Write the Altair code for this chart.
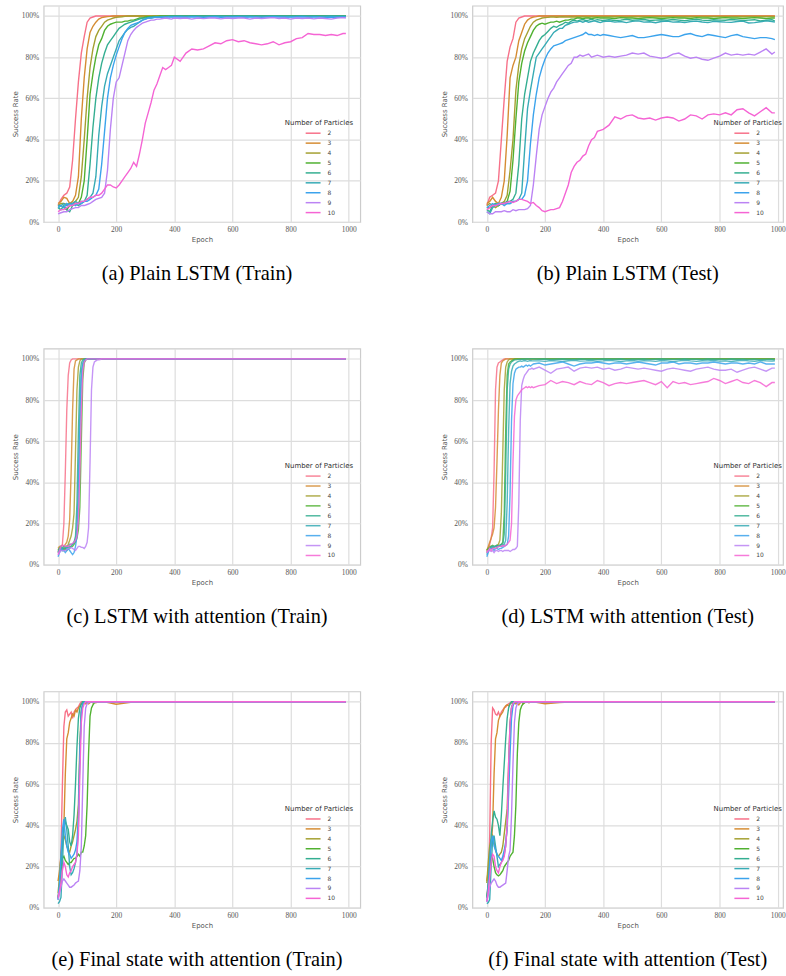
import altair as alt
import pandas as pd

PARTICLES = ["2", "3", "4", "5", "6", "7", "8", "9", "10"]
COLORS = ["#f77189", "#d58c32", "#a4a031", "#50b131", "#34ae91",
          "#37abb5", "#3ba3ec", "#bb83f4", "#f564d4"]
X_TICKS = [0, 200, 400, 600, 800, 1000]
Y_TICKS = [0, 0.2, 0.4, 0.6, 0.8, 1.0]
CAPTIONS = [
    "(a) Plain LSTM (Train)", "(b) Plain LSTM (Test)",
    "(c) LSTM with attention (Train)", "(d) LSTM with attention (Test)",
    "(e) Final state with attention (Train)", "(f) Final state with attention (Test)",
]

# epoch grids (sampling positions along the x axis)
EPOCH_AB = list(range(0, 401, 10)) + list(range(420, 981, 20)) + [990]
EPOCH_D = list(range(0, 161, 5)) + list(range(180, 981, 20)) + [990]
EPOCH_CEF = list(range(0, 161, 5)) + [200, 250, 300, 400, 500, 600, 700, 800, 900, 990]

# ---------------- (a) Plain LSTM (Train), success rate in % ----------------
A = {
    "2": [8, 11, 13, 14, 17, 30, 50, 68, 82, 90, 97, 99, 99.5, 100, 100, 100, 100, 100, 100, 100,
          100, 100, 100, 100, 100, 100, 100, 100, 100, 100, 100, 100, 100, 100, 100, 100, 100, 100, 100, 100, 100,
          100, 100, 100, 100, 100, 100, 100, 100, 100, 100, 100, 100, 100, 100, 100, 100, 100, 100, 100, 100,
          100, 100, 100, 100, 100, 100, 100, 100, 100, 100],
    "3": [9, 10, 12, 11.5, 9, 10, 13, 22, 50, 70, 84, 92, 95, 97, 98.5, 99.2, 99.5, 99.7, 99.8, 100,
          100, 100, 100, 100, 100, 100, 100, 100, 100, 100, 100, 100, 100, 100, 100, 100, 100, 100, 100, 100, 100,
          100, 100, 100, 100, 100, 100, 100, 100, 100, 100, 100, 100, 100, 100, 100, 100, 100, 100, 100, 100,
          100, 100, 100, 100, 100, 100, 100, 100, 100, 100],
    "4": [8, 9, 9, 8.5, 9, 9, 10, 12, 22, 40, 60, 75, 84, 90, 93, 95, 97, 98, 98.5, 99,
          99.3, 99.5, 99.6, 99.8, 100, 100, 100, 100, 100, 100, 100, 100, 100, 100, 100, 100, 100, 100, 100, 100, 100,
          100, 100, 100, 100, 100, 100, 100, 100, 100, 100, 100, 100, 100, 100, 100, 100, 100, 100, 100, 100,
          100, 100, 100, 100, 100, 100, 100, 100, 100, 100],
    "5": [7, 8, 7, 6, 8, 8, 9, 9, 12, 20, 40, 62, 72, 80, 86, 89, 93, 95, 96, 96.5,
          97, 97, 97, 97.5, 97.5, 98, 98, 98.5, 99, 99, 99.5, 99.6, 99.7, 99.8, 99.8, 100, 100, 100, 100, 100, 100,
          100, 100, 100, 100, 100, 100, 100, 100, 100, 100, 100, 100, 100, 100, 100, 100, 100, 100, 100, 100,
          100, 100, 100, 100, 100, 100, 100, 100, 100, 100],
    "6": [7, 6, 8, 6, 5, 8, 9, 8, 9, 10, 13, 28, 46, 60, 70, 77, 82, 86, 88, 90,
          92, 94, 95, 96, 96.5, 97, 97.5, 98, 98.5, 99, 99, 99.3, 99.5, 99.6, 99.7, 99.7, 99.8, 99.8, 99.9, 100, 100,
          100, 100, 100, 100, 100, 100, 100, 100, 100, 100, 100, 100, 100, 100, 100, 100, 100, 100, 100, 100,
          100, 100, 100, 100, 100, 100, 100, 100, 100, 100],
    "7": [8, 8, 9, 8, 9, 9, 10, 9, 10, 10, 11, 12, 14, 22, 42, 56, 66, 72, 76, 80,
          84, 88, 90, 92, 93.5, 94.5, 95, 96, 97, 98, 98.5, 99, 99, 99.3, 99.5, 99.5, 99.6, 99.6, 99.7, 99.7, 99.7,
          99.8, 99.7, 99.8, 99.8, 99.7, 99.8, 99.9, 99.8, 99.7, 99.8, 99.8, 99.9, 99.8, 99.7, 99.8, 99.8, 99.9, 99.8, 99.8, 99.7,
          99.8, 99.9, 99.8, 99.8, 99.7, 99.8, 99.9, 99.8, 99.8, 99.8],
    "8": [7, 8, 7, 9, 8, 9, 8, 9, 9, 10, 10, 11, 12, 13, 16, 28, 44, 60, 70, 76,
          81, 85, 89, 92, 94, 95.5, 96, 96.5, 97, 98, 98.5, 99, 99, 99.2, 99.3, 99.3, 99.4, 99.4, 99.5, 99.5, 99.5,
          99.5, 99.4, 99.6, 99.5, 99.3, 99.5, 99.6, 99.4, 99.5, 99.5, 99.6, 99.4, 99.5, 99.5, 99.3, 99.5, 99.6, 99.5, 99.4, 99.5,
          99.5, 99.6, 99.4, 99.5, 99.5, 99.3, 99.5, 99.4, 99.5, 99.5],
    "9": [4, 4.5, 5, 5, 6, 6.5, 7, 7, 8, 8, 8.5, 9, 10, 11, 11.5, 12, 14, 25, 45, 60,
          68, 70, 76, 82, 88, 91, 93, 94.5, 95.5, 96.5, 97, 97.5, 98, 98, 98.5, 98.5, 98.8, 99, 98.8, 98.5, 99,
          98.8, 99, 98.5, 99, 98.7, 99, 99, 98.6, 99, 98.8, 99, 99, 98.5, 99, 98.8, 99, 99.2, 98.8, 99, 98.5,
          99, 98.8, 99, 98.6, 99, 98.8, 98.5, 99, 99.2, 99],
    "10": [5, 6, 6, 7, 8, 8, 9, 9, 10, 10, 11, 12, 12, 13, 13, 14, 16, 18, 18, 17,
           16.5, 18, 20, 22, 24, 26, 29, 27, 33, 40, 48, 53, 58, 64, 67, 71, 75, 74, 75, 76, 80,
           78, 82, 84, 83.5, 84, 85.5, 87, 86.5, 88, 88.5, 87.5, 88, 87, 86.5, 86, 86.5, 87.5, 86, 87, 87.5,
           89, 89.5, 91.5, 91, 91, 90.5, 91, 90.5, 91.5, 91.5],
}

# ---------------- (b) Plain LSTM (Test) ----------------
B = {
    "2": [8, 12, 13, 14, 20, 40, 60, 78, 85, 89, 97, 99, 99.5, 100, 100, 100, 100, 100, 100, 100,
          100, 100, 100, 100, 100, 100, 100, 100, 100, 100, 100, 100, 100, 100, 100, 100, 100, 100, 100, 100, 100,
          100, 100, 100, 100, 100, 100, 100, 100, 100, 100, 100, 100, 100, 100, 100, 100, 100, 100, 100, 100,
          100, 100, 100, 100, 100, 100, 100, 100, 100, 100],
    "3": [9, 10, 12, 10, 9, 12, 20, 42, 70, 76, 80, 88, 92, 96, 98, 99, 99.5, 99.7, 100, 100,
          100, 100, 100, 100, 100, 100, 100, 100, 100, 100, 100, 100, 100, 100, 100, 100, 100, 100, 100, 100, 100,
          100, 100, 100, 100, 100, 100, 100, 100, 100, 100, 100, 100, 100, 100, 100, 100, 100, 100, 100, 100,
          100, 100, 100, 100, 100, 100, 100, 100, 100, 100],
    "4": [8, 9, 8, 7, 8, 9, 10, 13, 25, 40, 64, 76, 84, 89, 92, 95, 97, 98, 98.5, 99,
          99.2, 99.3, 99.5, 99.5, 99.4, 99.5, 99.6, 99.5, 99.5, 99.6, 99.5, 99.6, 99.5, 99.7, 99.6, 99.5, 99.6, 99.7, 99.6, 99.6, 99.7,
          99.6, 99.7, 99.6, 99.5, 99.7, 99.6, 99.7, 99.6, 99.7, 99.6, 99.7, 99.7, 99.6, 99.7, 99.6, 99.7, 99.7, 99.6, 99.7, 99.7,
          99.6, 99.7, 99.7, 99.6, 99.7, 99.7, 99.6, 99.7, 99.7, 99.7],
    "5": [7, 7, 8, 9, 8, 9, 9, 10, 15, 30, 50, 68, 77, 83, 87, 90, 93, 95, 96, 96.5,
          96, 96.5, 97, 97, 97.5, 97, 97.5, 98, 98, 98.5, 98.5, 99, 99, 98.8, 99, 99, 98.8, 99, 99.2, 99, 99,
          99, 98.8, 99.2, 99, 99, 98.7, 99, 99.2, 99, 98.8, 99, 99.2, 99, 99, 98.8, 99.2, 99, 99, 98.8, 99,
          99.2, 99, 99, 98.8, 99, 99.2, 99, 98.8, 99, 99],
    "6": [6, 5, 8, 9, 8, 9, 9, 10, 10, 11, 14, 28, 50, 62, 70, 78, 82, 85, 88, 90,
          91, 92.5, 94, 95, 94.5, 95.5, 96, 97, 96.5, 97.5, 98, 97.5, 98, 98.3, 97.8, 98, 98.4, 97.9, 98.2, 98, 97.8,
          98.2, 97.8, 98, 98.4, 97.9, 98.1, 98.3, 97.8, 98, 98.2, 97.9, 98.3, 98, 97.7, 98.1, 98.4, 98, 97.8, 98.2, 98,
          97.9, 98.3, 98.1, 97.8, 98, 98.2, 97.6, 97.9, 98.2, 97.5],
    "7": [5, 4, 7, 8, 9, 9, 9, 9, 9, 10, 10, 11, 14, 35, 55, 64, 72, 80, 82, 84,
          86, 88, 90, 92, 93, 94, 94, 95.5, 96, 96.5, 97, 97, 97.5, 97, 97.5, 97, 97.3, 97.6, 97.2, 96.8, 97.3,
          97.5, 97, 97.3, 96.8, 97.4, 97.6, 97, 97.2, 96.7, 97.3, 97.5, 97, 97.2, 96.8, 97.3, 97.5, 97.1, 96.8, 97.4, 97.2,
          97, 96.9, 97.3, 97.5, 96.6, 96.8, 97.2, 97.6, 97.3, 97],
    "8": [7, 8, 9, 8, 9, 9, 8, 9, 9, 10, 10, 11, 11, 13, 20, 38, 52, 62, 70, 75,
          79, 82, 84, 85.5, 86, 86.5, 87, 88, 88.5, 89, 89.5, 90, 90.5, 91, 92, 91, 91, 90.5, 91, 90.5, 91,
          90.5, 90, 89.5, 90, 90.5, 89.5, 89.5, 90, 90.5, 91, 90.5, 90, 90, 91, 91.5, 90.5, 90, 91, 90.5, 90,
          89.5, 90.5, 91, 90, 89.5, 89, 89.5, 89.5, 89, 88.5],
    "9": [5, 4, 4, 5, 5, 5, 5.5, 5, 5, 6, 5.5, 6, 6, 6, 6.5, 8, 18, 32, 45, 52,
          56, 60, 63, 65, 68, 70, 72, 74, 76, 77, 80, 80, 81, 80.5, 81, 81.5, 80, 80.5, 81, 80.5, 80,
          80.5, 80, 80.5, 81, 82, 81.5, 82, 80.5, 80, 79.5, 80, 81.5, 82, 80.5, 79.5, 80, 79, 78.5, 79.5, 80.5,
          82, 81, 81.5, 81, 81.5, 81, 82.5, 84, 81.5, 82.5],
    "10": [6, 7, 8, 8, 8.5, 9, 9, 9.5, 10, 9.5, 10, 11, 11, 10.5, 10, 9, 9.5, 8, 7, 5.5,
           5, 5.5, 6, 6, 6.5, 7, 10, 14, 18, 24, 27, 29, 30, 32, 33, 37, 40, 41, 44, 44.5, 45,
           47, 51, 50, 51.5, 52, 50.5, 50, 50.5, 49.5, 50.5, 51, 50.5, 49, 50, 52, 51.5, 50, 52, 52.5, 52,
           53, 52, 54.5, 55, 53, 51.5, 53.5, 55.5, 53, 53],
}

# ---------------- (c) LSTM with attention (Train) ----------------
C = {
    "2": [6, 8, 9, 10, 20, 45, 75, 92, 98, 99.5, 100, 100, 100, 100, 100, 100, 100, 100, 100, 100,
          100, 100, 100, 100, 100, 100, 100, 100, 100, 100, 100, 100, 100,
          100, 100, 100, 100, 100, 100, 100, 100, 100, 100],
    "3": [8, 9, 9, 9.5, 9, 10, 11, 14, 22, 45, 75, 95, 99, 99.5, 100, 100, 100, 100, 100, 100,
          100, 100, 100, 100, 100, 100, 100, 100, 100, 100, 100, 100, 100,
          100, 100, 100, 100, 100, 100, 100, 100, 100, 100],
    "4": [7, 8, 8, 8.5, 8, 9, 9, 10, 12, 14, 18, 25, 55, 85, 96, 99, 100, 100, 100, 100,
          100, 100, 100, 100, 100, 100, 100, 100, 100, 100, 100, 100, 100,
          100, 100, 100, 100, 100, 100, 100, 100, 100, 100],
    "5": [7, 8, 7, 8, 7, 8, 7, 8, 8, 9, 9, 10, 11, 13, 17, 28, 60, 90, 98, 99.5,
          100, 100, 100, 100, 100, 100, 100, 100, 100, 100, 100, 100, 100,
          100, 100, 100, 100, 100, 100, 100, 100, 100, 100],
    "6": [6, 7, 8, 7, 8, 8, 9, 8, 9, 9, 10, 11, 14, 30, 65, 92, 98, 99.5, 100, 100,
          100, 100, 100, 100, 100, 100, 100, 100, 100, 100, 100, 100, 100,
          100, 100, 100, 100, 100, 100, 100, 100, 100, 100],
    "7": [6, 8, 9, 8, 9, 9, 8, 9, 10, 10, 10, 11, 12, 18, 40, 75, 94, 98, 99.5, 100,
          100, 100, 100, 100, 100, 100, 100, 100, 100, 100, 100, 100, 100,
          100, 100, 100, 100, 100, 100, 100, 100, 100, 100],
    "8": [4, 6, 8, 7, 7, 6, 7, 8, 7, 6, 5, 6, 9, 14, 30, 65, 90, 97, 99, 99.5,
          100, 100, 100, 100, 100, 100, 100, 100, 100, 100, 100, 100, 100,
          100, 100, 100, 100, 100, 100, 100, 100, 100, 100],
    "9": [5, 6, 7, 7, 7, 7, 7.5, 8, 8, 8.5, 8, 7.5, 7, 8, 9, 9, 8.5, 8.5, 8, 9,
          11, 18, 50, 85, 96, 98.5, 99, 99.5, 99.5, 99.7, 100, 100, 100,
          100, 100, 100, 100, 100, 100, 100, 100, 100, 100],
    "10": [5, 7, 9, 9.5, 9.5, 9, 9, 9, 9.5, 10, 10.5, 11, 12, 14, 22, 45, 75, 94, 98.5, 99.5,
           100, 100, 100, 100, 100, 100, 100, 100, 100, 100, 100, 100, 100,
           100, 100, 100, 100, 100, 100, 100, 100, 100, 100],
}

# ---------------- (d) LSTM with attention (Test) ----------------
D = {
    "2": [6, 8, 10, 13, 18, 45, 85, 96, 98, 98.5, 99, 99.5, 100, 100, 100, 100, 100, 100, 100, 100,
          100, 100, 100, 100, 100, 100, 100, 100, 100, 100, 100, 100, 100,
          100, 100, 100, 100, 100, 100, 100, 100, 100, 100, 100, 100, 100, 100, 100, 100, 100, 100, 100, 100,
          100, 100, 100, 100, 100, 100, 100, 100, 100, 100, 100, 100, 100, 100, 100, 100, 100, 100, 100, 100, 100, 100],
    "3": [7, 9, 11, 13, 15, 18, 28, 50, 75, 92, 98, 99, 99.5, 100, 100, 100, 100, 100, 100, 100,
          100, 100, 100, 100, 100, 100, 100, 100, 100, 100, 100, 100, 100,
          100, 100, 100, 100, 100, 100, 100, 100, 100, 100, 100, 100, 100, 100, 100, 100, 100, 100, 100, 100,
          100, 100, 100, 100, 100, 100, 100, 100, 100, 100, 100, 100, 100, 100, 100, 100, 100, 100, 100, 100, 100, 100],
    "4": [7, 8, 9, 9, 8.5, 9, 9, 9.5, 10, 12, 25, 55, 85, 96, 98.5, 99.5, 100, 100, 100, 100,
          100, 100, 100, 100, 100, 100, 100, 100, 100, 100, 100, 100, 100,
          100, 100, 100, 100, 100, 100, 100, 100, 100, 100, 100, 100, 100, 100, 100, 100, 100, 100, 100, 100,
          100, 100, 100, 100, 100, 100, 100, 100, 100, 100, 100, 100, 100, 100, 100, 100, 100, 100, 100, 100, 100, 100],
    "5": [7, 8, 8, 9, 9.5, 9, 9, 9.5, 9, 9.5, 10, 11, 25, 65, 92, 97.5, 98.5, 99, 99.5, 99.8,
          100, 100, 100, 100, 100, 100, 100, 100, 100, 100, 100, 100, 100,
          100, 100, 100, 100, 100, 100, 100, 100, 100, 100, 100, 100, 100, 100, 100, 100, 100, 100, 100, 100,
          100, 100, 100, 100, 100, 100, 100, 100, 100, 100, 100, 100, 100, 100, 100, 100, 100, 100, 100, 100, 100, 100],
    "6": [6, 7, 8, 9, 9, 8.5, 9, 9.5, 9, 9.5, 10, 10, 15, 45, 85, 95, 97.5, 98.5, 99, 99.5,
          99.5, 99.6, 99.7, 99.7, 99.8, 99.8, 99.8, 99.9, 99.9, 99.9, 100, 100, 100,
          99.8, 99.9, 99.7, 99.8, 99.9, 99.8, 99.7, 99.9, 99.8, 99.8, 99.7, 99.9, 99.8, 99.8, 99.9, 99.7, 99.8, 99.8, 99.9, 99.7,
          99.8, 99.9, 99.8, 99.7, 99.8, 99.9, 99.8, 99.8, 99.7, 99.9, 99.8, 99.8, 99.7, 99.9, 99.8, 99.8, 99.7, 99.8, 99.6, 99.7, 99.8, 99.6],
    "7": [5, 7, 8, 8, 9, 9, 9, 8.5, 9, 9.5, 9, 9.5, 10, 12, 30, 65, 88, 94, 96.5, 97.5,
          98, 98.5, 98.8, 99, 98.8, 99, 99.2, 99, 98.8, 99, 99.2, 99, 99,
          99, 98.8, 99.2, 99, 98.7, 99.1, 99.3, 98.9, 99, 99.2, 98.8, 99, 99.3, 99, 98.7, 99, 99.2, 98.9, 99.1, 99,
          98.8, 99.2, 99, 98.6, 99, 99.3, 99, 98.8, 99.1, 99, 99.2, 98.9, 99, 98.7, 99.1, 99.3, 99, 98.8, 99.2, 99, 98.9, 99.1],
    "8": [4, 6, 8, 8, 8, 7, 8, 8, 7.5, 8, 8, 8.5, 9, 9.5, 10, 14, 35, 70, 88, 93,
          95, 95.5, 96, 96, 96.5, 96, 96.5, 97, 96.5, 97, 96.5, 97, 97.5,
          98, 97, 97.5, 98, 98.5, 97.5, 96.5, 97.5, 98, 98, 98.5, 98, 97.5, 98, 98, 97.5, 98, 98.5, 98, 97.5,
          97, 98, 98, 98.5, 97.5, 98, 98, 97.5, 98, 98, 98.5, 98, 97.5, 98, 98, 97.5, 98, 97.5, 98.5, 97.5, 97.5, 97.5],
    "9": [6, 7, 7, 6.5, 7, 6, 7, 7, 6.5, 7, 7, 6.5, 7, 7, 7, 7, 6.5, 7, 7.5, 7.5,
          8, 9, 30, 70, 87, 90, 92, 93, 94, 95, 95, 95.5, 95,
          96, 94.5, 93, 95, 95.5, 96, 94, 95.5, 96, 95.5, 96, 95, 95.5, 94.5, 95, 96, 95.5, 95, 95.5, 95,
          94.5, 94, 95, 95.5, 95, 94.5, 94, 95, 95.5, 96, 95, 94.5, 94.5, 95, 93.5, 94.5, 95.5, 96, 95, 94, 95.5, 95.5],
    "10": [6, 7, 8, 7, 8, 8, 8, 8.5, 9, 9, 9, 9.5, 9, 9.5, 10, 11, 12, 20, 50, 72,
           80, 82, 83, 84, 85, 85.5, 86, 86.5, 86, 86.5, 86, 86.5, 86,
           87, 87.5, 89.5, 88, 89, 88.5, 87.5, 89, 88, 87.5, 89.5, 88.5, 87, 88, 88.5, 88, 88.5, 89, 89.5, 88.5,
           87.5, 89, 86, 89, 88, 88.5, 87.5, 88, 88.5, 89, 90.5, 89.5, 88, 89, 90, 88.5, 88, 89.5, 88.5, 86.5, 88.5, 88.5],
}

# ---------------- (e) Final state with attention (Train) ----------------
E = {
    "2": [5, 10, 28, 60, 88, 95, 96, 93, 94, 95, 92, 95, 96, 97, 97.5, 99, 100, 100, 100, 100,
          100, 100, 100, 100, 100, 100, 100, 100, 100, 100, 100, 100, 100,
          100, 100, 100, 100, 100, 100, 100, 100, 100, 100],
    "3": [13, 18, 25, 32, 40, 65, 82, 85, 90, 92, 94, 93, 96, 95, 97, 98, 99, 99, 99.5, 99,
          99.5, 99, 99.5, 100, 99.5, 100, 99.5, 100, 100, 100, 100, 100, 100,
          98.8, 99.7, 100, 100, 100, 100, 100, 100, 100, 100],
    "4": [7, 15, 25, 33, 35, 33, 30, 28, 27, 30, 32, 35, 38, 42, 50, 80, 96, 99, 99.5, 100,
          100, 100, 100, 100, 100, 100, 100, 100, 100, 100, 100, 100, 100,
          100, 100, 100, 100, 100, 100, 100, 100, 100, 100],
    "5": [5, 10, 18, 24, 25, 23, 22, 21, 22, 22, 23, 24, 24, 25, 26, 25, 27, 27, 30, 35,
          50, 75, 93, 97, 98.5, 99.5, 100, 100, 100, 100, 100, 100, 100,
          100, 100, 100, 100, 100, 100, 100, 100, 100, 100],
    "6": [4, 10, 20, 30, 38, 42, 40, 38, 32, 30, 35, 45, 60, 78, 92, 97, 99, 100, 100, 100,
          100, 100, 100, 100, 100, 100, 100, 100, 100, 100, 100, 100, 100,
          100, 100, 100, 100, 100, 100, 100, 100, 100, 100],
    "7": [2, 3, 5, 20, 40, 44, 38, 30, 20, 16, 17, 19, 22, 26, 40, 75, 95, 99, 100, 100,
          100, 100, 100, 100, 100, 100, 100, 100, 100, 100, 100, 100, 100,
          100, 100, 100, 100, 100, 100, 100, 100, 100, 100],
    "8": [4, 12, 25, 38, 43, 35, 30, 27, 26, 24, 25, 26, 28, 32, 45, 75, 95, 98.5, 99.5, 100,
          100, 100, 100, 100, 100, 100, 100, 100, 100, 100, 100, 100, 100,
          100, 100, 100, 100, 100, 100, 100, 100, 100, 100],
    "9": [4, 7, 10, 13, 14, 13, 12, 11, 10, 10, 10.5, 11, 12, 12.5, 13, 18, 30, 60, 88, 97,
          99, 99.5, 100, 100, 100, 100, 100, 100, 100, 100, 100, 100, 100,
          100, 100, 100, 100, 100, 100, 100, 100, 100, 100],
    "10": [5, 8, 12, 18, 22, 20, 16, 15, 17, 18, 20, 21, 22, 26, 35, 65, 90, 97, 99, 100,
           100, 100, 100, 100, 100, 100, 100, 100, 100, 100, 100, 100, 100,
           100, 100, 100, 100, 100, 100, 100, 100, 100, 100],
}

# ---------------- (f) Final state with attention (Test) ----------------
F = {
    "2": [5, 12, 35, 80, 97, 96, 94, 93.5, 95, 93, 95, 96, 97, 97.5, 98.5, 99, 99.5, 100, 100, 100,
          100, 100, 100, 100, 100, 100, 100, 100, 100, 100, 100, 100, 100,
          100, 100, 100, 100, 100, 100, 100, 100, 100, 100],
    "3": [13, 18, 25, 30, 40, 65, 82, 85, 91, 93, 94, 95, 97, 98, 98.5, 98, 99, 99.5, 99, 99.5,
          99, 99.5, 98.5, 99.5, 99.8, 99, 99.5, 100, 100, 99.5, 100, 100, 100,
          99, 99.6, 100, 100, 100, 100, 100, 100, 100, 100],
    "4": [12, 22, 30, 33, 35, 32, 28, 26, 25, 26, 27, 30, 36, 42, 48, 70, 90, 97, 99, 99.5,
          100, 100, 100, 100, 100, 100, 100, 100, 100, 100, 100, 100, 100,
          100, 100, 100, 100, 100, 100, 100, 100, 100, 100],
    "5": [5, 10, 18, 25, 24, 20, 17, 16, 15.5, 16, 17, 18, 20, 21, 22, 23, 25, 26, 27, 35,
          50, 75, 90, 96, 98, 99, 99.5, 100, 100, 100, 100, 100, 100,
          100, 100, 100, 100, 100, 100, 100, 100, 100, 100],
    "6": [5, 12, 22, 35, 42, 47, 44, 43, 40, 35, 45, 58, 70, 82, 92, 97, 99, 100, 100, 100,
          100, 100, 100, 100, 100, 100, 100, 100, 100, 100, 100, 100, 100,
          100, 100, 100, 100, 100, 100, 100, 100, 100, 100],
    "7": [2, 2.5, 4, 20, 33, 35, 30, 25, 20, 21, 22, 24, 26, 30, 40, 65, 88, 97, 99.5, 100,
          100, 100, 100, 100, 100, 100, 100, 100, 100, 100, 100, 100, 100,
          100, 100, 100, 100, 100, 100, 100, 100, 100, 100],
    "8": [3, 10, 22, 32, 35, 30, 28, 26, 25, 24, 23, 25, 28, 32, 38, 55, 75, 92, 98, 99.5,
          100, 100, 100, 100, 100, 100, 100, 100, 100, 100, 100, 100, 100,
          100, 100, 100, 100, 100, 100, 100, 100, 100, 100],
    "9": [3, 6, 10, 12, 13, 14, 13, 11, 10, 10, 10.5, 11, 11.5, 12, 18, 25, 28, 45, 70, 90,
          97, 99, 99.5, 100, 100, 100, 100, 100, 100, 100, 100, 100, 100,
          100, 100, 100, 100, 100, 100, 100, 100, 100, 100],
    "10": [3, 8, 15, 22, 26, 25, 20, 18, 17, 20, 22, 23, 25, 30, 40, 70, 90, 97, 99, 100,
           100, 100, 100, 100, 100, 100, 100, 100, 100, 100, 100, 100, 100,
           100, 100, 100, 100, 100, 100, 100, 100, 100, 100],
}


def make_frame(epochs, series):
    rows = []
    for p in PARTICLES:
        vals = series[p]
        if len(vals) != len(epochs):
            raise ValueError(f"length mismatch for {p}: {len(vals)} vs {len(epochs)}")
        for e, v in zip(epochs, vals):
            rows.append({"epoch": e, "rate": v / 100.0, "particles": p})
    return pd.DataFrame(rows)


def panel(epochs, series, caption, right, opacity):
    df = make_frame(epochs, series)
    xdom = [-49.5, 1018] if right else [-49.5, 1039.5]
    width = 313 if right else 319
    return alt.Chart(
        df,
        title=alt.TitleParams(caption, orient="bottom", anchor="middle", frame="group",
                              dx=0 if right else -5),
    ).mark_line(strokeWidth=1.4, opacity=opacity, clip=True).encode(
        x=alt.X("epoch:Q", scale=alt.Scale(domain=xdom, nice=False, zero=False),
                axis=alt.Axis(values=X_TICKS, title="Epoch", format="d")),
        y=alt.Y("rate:Q", scale=alt.Scale(domain=[0, 1.05], nice=False, zero=False),
                axis=alt.Axis(values=Y_TICKS, format=".0%", title="Success Rate")),
        color=alt.Color(
            "particles:N",
            scale=alt.Scale(domain=PARTICLES, range=COLORS),
            legend=alt.Legend(
                title="Number of Particles", orient="none", legendX=243, legendY=114.5,
                symbolType="M-1.5,0L1.5,0", symbolSize=100, symbolStrokeWidth=1.5,
                symbolOffset=22.5, labelOffset=8.5, rowPadding=1,
                titleFontSize=7, labelFontSize=6, titleFont="DejaVu Sans",
                labelFont="DejaVu Sans", titleFontWeight="normal",
                titleColor="#333333", labelColor="#444444", titlePadding=1, padding=0,
            ),
        ),
    ).properties(width=width, height=218)


pa = panel(EPOCH_AB, A, CAPTIONS[0], False, 1.0)
pb = panel(EPOCH_AB, B, CAPTIONS[1], True, 1.0)
pc = panel(EPOCH_CEF, C, CAPTIONS[2], False, 0.85)
pd_ = panel(EPOCH_D, D, CAPTIONS[3], True, 0.85)
pe = panel(EPOCH_CEF, E, CAPTIONS[4], False, 1.0)
pf = panel(EPOCH_CEF, F, CAPTIONS[5], True, 1.0)


def row(left, right):
    return alt.hconcat(left, right, spacing=78).resolve_scale(
        color="independent").resolve_legend(color="independent")


chart = alt.vconcat(
    row(pa, pb), row(pc, pd_), row(pe, pf), spacing=62.5,
).resolve_scale(
    color="independent",
).resolve_legend(
    color="independent",
).properties(
    padding={"left": 10, "top": 1, "right": 0, "bottom": 0},
    background="white",
).configure_view(
    stroke="#cccccc", strokeWidth=1.2,
).configure_axis(
    domain=False, ticks=False, grid=True, gridColor="#dddddd", gridWidth=1.2,
    labelFont="Liberation Serif", labelFontSize=7.5, labelColor="#555555",
    titleFont="DejaVu Sans", titleFontSize=7, titleFontWeight="normal", titleColor="#555555",
).configure_axisX(
    labelPadding=3.5, titlePadding=2.5,
).configure_axisY(
    labelPadding=5, titlePadding=3,
).configure_title(
    font="Liberation Serif", fontSize=20.5, fontWeight="normal", color="black", offset=22,
)

chart.save("out.html", embed_options={"renderer": "svg", "actions": False})
